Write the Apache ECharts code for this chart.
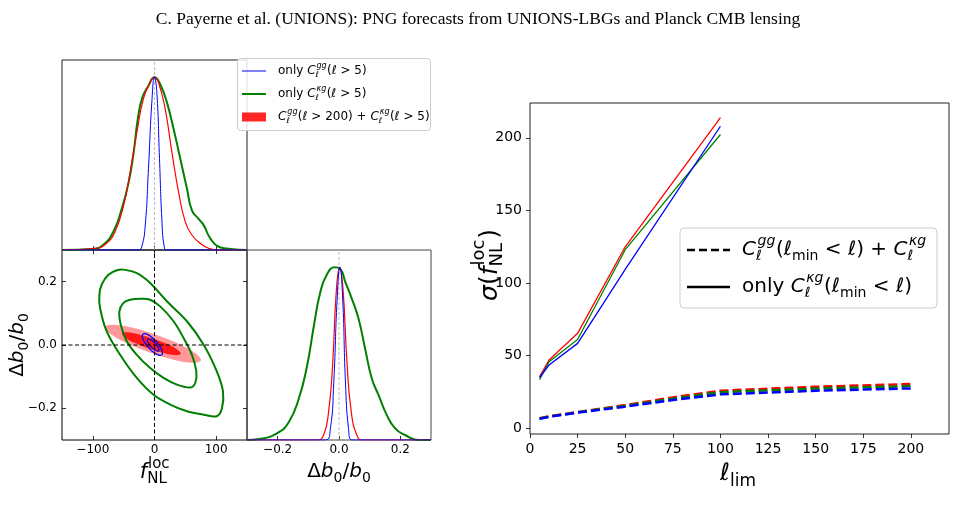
<!DOCTYPE html>
<html><head><meta charset="utf-8">
<script src="https://cdn.jsdelivr.net/npm/echarts@6.0.0/dist/echarts.min.js"></script>
<style>html,body{margin:0;padding:0;background:#fff}#c{width:956px;height:514px}</style>
</head><body><div id="c"></div><script>
// ---------------- DATA ----------------
const titleText = 'C. Payerne et al. (UNIONS): PNG forecasts from UNIONS-LBGs and Planck CMB lensing';
const fnlTicks = [-100, 0, 100];
const dbTicks = [-0.2, 0, 0.2];
const lTicks = [0, 25, 50, 75, 100, 125, 150, 175, 200];
const sigmaTicks = [0, 50, 100, 150, 200];

// 1D marginal of f_NL (normalised to peak = 1)
const fnlGreen = [[-150,0],[-99,0.006],[-83,0.03],[-66.7,0.106],[-53,0.24],[-42,0.39],[-34,0.56],[-27,0.76],[-20,0.88],[-10,0.95],[0,1],[9.2,0.96],[20,0.856],[31,0.70],[41.7,0.53],[52.6,0.356],[60.7,0.23],[71.5,0.18],[79.7,0.144],[90.5,0.067],[104,0.019],[123,0.006],[150,0]];
const fnlRed = [[-150,0],[-94,0.01],[-77.5,0.04],[-64,0.106],[-50,0.26],[-39.6,0.45],[-28.7,0.68],[-18,0.875],[-7,0.97],[0,1],[6.5,0.97],[17.3,0.817],[28.2,0.567],[39,0.337],[49.9,0.163],[60.7,0.087],[74.3,0.038],[87.8,0.01],[101,0],[150,0]];
const fnlBlue = [[-150,0],[-26,0],[-20.6,0.02],[-15,0.144],[-9.8,0.47],[-4.3,0.856],[0,1],[3.8,0.913],[8.1,0.53],[11.9,0.18],[15.7,0.02],[20,0],[150,0]];

// 1D marginal of Delta b0 / b0
const dbGreen = [[-0.3,0],[-0.26,0.006],[-0.201,0.04],[-0.163,0.106],[-0.131,0.24],[-0.104,0.43],[-0.082,0.66],[-0.061,0.856],[-0.039,0.96],[-0.014,1.0],[0.004,0.99],[0.021,0.913],[0.042,0.817],[0.064,0.70],[0.085,0.53],[0.107,0.356],[0.129,0.26],[0.156,0.144],[0.183,0.067],[0.215,0.029],[0.258,0],[0.3,0]];
const dbRed = [[-0.3,0],[-0.071,0],[-0.05,0.029],[-0.034,0.163],[-0.021,0.43],[-0.009,0.856],[0.002,1.0],[0.013,0.875],[0.026,0.45],[0.04,0.163],[0.058,0.029],[0.075,0],[0.3,0]];
const dbBlue = [[-0.3,0],[-0.044,0],[-0.028,0.067],[-0.017,0.337],[-0.006,0.817],[0.003,1],[0.012,0.817],[0.021,0.337],[0.031,0.067],[0.042,0],[0.3,0]];

// 2D contours [f_NL, Delta b0/b0]
const greenOuter = [[-61,0.236],[-50.4,0.238],[-28.7,0.227],[-7,0.196],[20,0.138],[52.6,0.075],[79.7,0.001],[101,-0.083],[111,-0.146],[109.5,-0.199],[101,-0.225],[79.7,-0.22],[52.6,-0.209],[25.5,-0.188],[-1.6,-0.157],[-28.7,-0.104],[-55.8,-0.031],[-77.5,0.043],[-88.3,0.117],[-89.4,0.159],[-85.6,0.191],[-74.8,0.222]];
const greenInner = [[-39.6,0.143],[-23.3,0.146],[-7,0.143],[9.2,0.122],[30.9,0.075],[47.2,0.022],[60.7,-0.031],[67.8,-0.083],[66.1,-0.12],[58,-0.134],[36.3,-0.125],[14.6,-0.104],[-7,-0.073],[-28.7,-0.031],[-45,0.012],[-54.7,0.064],[-56.9,0.106],[-50.4,0.133]];
const redOuter = [[75.3,-0.049],[62.3,-0.056],[32.0,-0.047],[-7.6,-0.024],[-45.7,0.006],[-72.4,0.036],[-80.2,0.057],[-67.2,0.064],[-36.9,0.055],[2.7,0.032],[40.8,0.002],[67.5,-0.028]];
const redInner = [[42.9,-0.028],[35.0,-0.032],[16.4,-0.026],[-8.0,-0.012],[-31.5,0.006],[-48.0,0.023],[-53.0,0.036],[-45.0,0.040],[-26.5,0.034],[-2.1,0.020],[21.5,0.002],[37.9,-0.016]];
const blueOuter = [[11.8,-0.031],[6.7,-0.032],[-1.0,-0.024],[-9.4,-0.009],[-16.3,0.009],[-19.7,0.025],[-18.7,0.034],[-13.5,0.035],[-5.9,0.027],[2.6,0.012],[9.4,-0.006],[12.8,-0.021]];
const blueInner = [[6.6,-0.019],[3.8,-0.019],[-0.6,-0.014],[-5.4,-0.006],[-9.3,0.004],[-11.3,0.013],[-10.8,0.019],[-8.0,0.019],[-3.6,0.014],[1.1,0.006],[5.1,-0.004],[7.1,-0.013]];

// right panel: sigma(f_NL) vs ell_lim
const lSolid = [5, 10, 25, 50, 100];
const solidRed = [35.5, 47, 65.4, 125, 214];
const solidGreen = [33.5, 45.8, 61.2, 123, 202.3];
const solidBlue = [35, 43.6, 58.5, 109.5, 208];
const lDashed = [5, 10, 25, 50, 75, 100, 150, 200];
const dashedRed = [7, 8.3, 11.2, 16, 21.3, 25.9, 28.6, 30.5];
const dashedGreen = [6.8, 8.1, 11, 15.5, 20.4, 24.9, 27.4, 29.1];
const dashedBlue = [6.5, 7.9, 10.8, 14.9, 19.5, 23.4, 25.9, 27.5];

// ---------------- HELPERS ----------------
const FF = '"DejaVu Sans", sans-serif';
const mctx = document.createElement('canvas').getContext('2d');
function tw(t, size, it) { mctx.font = (it ? 'italic ' : '') + size + 'px "DejaVu Sans"'; return mctx.measureText(t).width; }
function txt(t, x, y, size, it) {
  return {type:'text', x:x, y:y, z:100, style:{text:t, fontSize:size, fontFamily:FF, fontStyle: it ? 'italic' : 'normal', fill:'#000', align:'left', verticalAlign:'middle', textAlign:'left', textVerticalAlign:'middle'}};
}
function math(tokens, S, cx, cy, opts) {
  opts = opts || {};
  const s = Math.round(S * 0.7); let x = 0; const kids = [];
  for (const [t, k] of tokens) {
    if (k === 'n' || k === 'i') { kids.push(txt(t, x, 0, S, k === 'i')); x += tw(t, S, k === 'i'); }
    else if (k === 'sub') { kids.push(txt(t, x, S * 0.3, s, false)); x += tw(t, s, false); }
    else if (k === 'stk' || k === 'stkn') {
      const it = k === 'stk'; const [a, b] = t.split('|');
      const sh = it ? S * 0.08 : S * 0.04;
      kids.push(txt(a, x + sh, -S * 0.42, s, it));
      kids.push(txt(b, x, S * 0.3, s, it));
      x += Math.max(tw(a, s, it) + sh, tw(b, s, it)) + S * 0.03;
    }
  }
  const off = opts.align === 'center' ? -x / 2 : 0;
  kids.forEach(c => c.x += off);
  return {type:'group', x:cx, y:cy, rotation:opts.rot || 0, children:kids, z:100};
}
const fmtInt = v => (v < 0 ? '\u2212' : '') + Math.abs(v);
const fmtDec = v => (v < 0 ? '\u2212' : '') + Math.abs(v).toFixed(1);
const tickIn = vals => ({show:true, inside:true, length:4, customValues:vals, lineStyle:{color:'#000', width:0.8}});
const lab = (vals, fmt, size, margin) => ({show:true, customValues:vals, formatter:fmt, fontSize:size, fontFamily:FF, color:'#000', margin:margin});
function vax(grid, min, max, extra) {
  return Object.assign({type:'value', gridIndex:grid, min:min, max:max, axisLine:{show:false, onZero:false}, splitLine:{show:false}, axisTick:{show:false}, axisLabel:{show:false}}, extra || {});
}
const line = (data, xi, yi, color, w, z, extra) => Object.assign({type:'line', xAxisIndex:xi, yAxisIndex:yi, data:data, symbol:'none', smooth:0.5, lineStyle:{color:color, width:w}, z:z, silent:true, animation:false}, extra || {});
function poly(pts, style, z) {
  return {type:'custom', coordinateSystem:'cartesian2d', xAxisIndex:1, yAxisIndex:1, data:pts, z:z, silent:true, clip:true, animation:false,
    renderItem:(p, api) => p.dataIndex === 0 ? {type:'polygon', shape:{points:pts.map(q => api.coord(q)), smooth:0.35}, style:style} : null};
}
const pair = (xs, ys) => xs.map((x, i) => [x, ys[i]]);

// ---------------- CHART ----------------
const chart = echarts.init(document.getElementById('c'), null, {renderer:'canvas'});
const border = c => ({show:true, borderColor:c, borderWidth:1, backgroundColor:'transparent'});
const option = {
  animation:false,
  backgroundColor:'#fff',
  title:{text:titleText, left:'center', top:5, textStyle:{fontFamily:'"Liberation Serif", serif', fontSize:17.5, fontWeight:'normal', color:'#000'}},
  grid:[
    Object.assign({left:62, top:60, width:185, height:190}, border('#222')),
    Object.assign({left:62, top:250, width:185, height:190}, border('#000')),
    Object.assign({left:247, top:250, width:184, height:190}, border('#444')),
    Object.assign({left:530, top:103, width:419, height:331}, border('#222'))
  ],
  xAxis:[
    vax(0, -150, 150, {axisTick:tickIn(fnlTicks)}),
    vax(1, -150, 150, {position:'bottom', axisTick:tickIn(fnlTicks), axisLabel:lab(fnlTicks, fmtInt, 12, 4)}),
    vax(1, -150, 150, {position:'top', axisTick:tickIn(fnlTicks)}),
    vax(2, -0.3, 0.3, {axisTick:tickIn(dbTicks), axisLabel:lab(dbTicks, fmtDec, 12, 4)}),
    vax(3, 0, 220, {axisTick:{show:true, inside:false, length:4, customValues:lTicks, lineStyle:{color:'#000', width:0.8}}, axisLabel:lab(lTicks, v => String(v), 14, 8)})
  ],
  yAxis:[
    vax(0, 0, 1.1),
    vax(1, -0.3, 0.3, {position:'left', axisTick:tickIn(dbTicks), axisLabel:lab(dbTicks, fmtDec, 12, 5)}),
    vax(1, -0.3, 0.3, {position:'right', axisTick:tickIn(dbTicks)}),
    vax(2, 0, 1.1),
    vax(3, -3.9, 224, {axisTick:{show:true, inside:false, length:4, customValues:sigmaTicks, lineStyle:{color:'#000', width:0.8}}, axisLabel:lab(sigmaTicks, v => String(v), 14, 8)})
  ],
  series:[
    // top-left 1D f_NL
    line([[0,0],[0,1.1]], 0, 0, '#aaa', 0.8, 1, {smooth:false, lineStyle:{color:'#aaa', width:0.8, type:[3,2]}}),
    line(fnlGreen, 0, 0, '#008000', 2, 2),
    line(fnlRed, 0, 0, '#ff0000', 1.2, 3),
    line(fnlBlue, 0, 0, '#0000ff', 1, 4),
    // 2D
    poly(redOuter, {fill:'rgba(255,0,0,0.4)', stroke:'none'}, 2),
    poly(redInner, {fill:'rgba(255,0,0,0.85)', stroke:'none'}, 3),
    poly(greenOuter, {fill:'none', stroke:'#008000', lineWidth:2}, 4),
    poly(greenInner, {fill:'none', stroke:'#008000', lineWidth:2}, 4),
    poly(blueOuter, {fill:'none', stroke:'#0000ff', lineWidth:1.2}, 5),
    poly(blueInner, {fill:'none', stroke:'#0000ff', lineWidth:1.2}, 5),
    line([[0,-0.3],[0,0.3]], 1, 1, '#000', 1, 6, {smooth:false, lineStyle:{color:'#000', width:1, type:[4,2.5]}}),
    line([[-150,0],[150,0]], 1, 1, '#000', 1, 6, {smooth:false, lineStyle:{color:'#000', width:1, type:[4,2.5]}}),
    // bottom-right 1D Delta b
    line([[0,0],[0,1.1]], 3, 3, '#aaa', 0.8, 1, {smooth:false, lineStyle:{color:'#aaa', width:0.8, type:[3,2]}}),
    line(dbGreen, 3, 3, '#008000', 2, 2),
    line(dbRed, 3, 3, '#ff0000', 1.2, 3),
    line(dbBlue, 3, 3, '#0000ff', 1, 4),
    // right panel
    line(pair(lDashed, dashedRed), 4, 4, '#ff0000', 2.5, 2, {smooth:false, lineStyle:{color:'#ff0000', width:2.5, type:[9,4]}}),
    line(pair(lDashed, dashedGreen), 4, 4, '#008000', 2.5, 3, {smooth:false, lineStyle:{color:'#008000', width:2.5, type:[9,4]}}),
    line(pair(lDashed, dashedBlue), 4, 4, '#0000ff', 2.5, 4, {smooth:false, lineStyle:{color:'#0000ff', width:2.5, type:[9,4]}}),
    line(pair(lSolid, solidRed), 4, 4, '#ff0000', 1.3, 2, {smooth:false}),
    line(pair(lSolid, solidGreen), 4, 4, '#008000', 1.3, 3, {smooth:false}),
    line(pair(lSolid, solidBlue), 4, 4, '#0000ff', 1.3, 4, {smooth:false})
  ],
  graphic:{elements:[
    // left legend
    {type:'rect', z:90, shape:{x:237.5, y:58.5, width:193, height:72, r:3}, style:{fill:'rgba(255,255,255,0.85)', stroke:'#cccccc', lineWidth:1}},
    {type:'line', z:100, shape:{x1:242, y1:71, x2:266, y2:71}, style:{stroke:'#0000ff', lineWidth:1}},
    {type:'line', z:100, shape:{x1:242, y1:94, x2:266, y2:94}, style:{stroke:'#008000', lineWidth:2}},
    {type:'rect', z:100, shape:{x:242, y:112.5, width:24, height:9}, style:{fill:'rgba(255,0,0,0.85)'}},
    math([['only ','n'],['C','i'],['gg|\u2113','stk'],['(','n'],['\u2113','i'],[' > 5)','n']], 12, 278, 71),
    math([['only ','n'],['C','i'],['\u03bag|\u2113','stk'],['(','n'],['\u2113','i'],[' > 5)','n']], 12, 278, 94),
    math([['C','i'],['gg|\u2113','stk'],['(','n'],['\u2113','i'],[' > 200) + ','n'],['C','i'],['\u03bag|\u2113','stk'],['(','n'],['\u2113','i'],[' > 5)','n']], 12, 278, 117),
    // right legend
    {type:'rect', z:90, shape:{x:680, y:228, width:257, height:80, r:4}, style:{fill:'rgba(255,255,255,0.85)', stroke:'#cccccc', lineWidth:1}},
    {type:'line', z:100, shape:{x1:687, y1:250, x2:730, y2:250}, style:{stroke:'#000', lineWidth:2.3, lineDash:[8,4]}},
    {type:'line', z:100, shape:{x1:687, y1:287, x2:730, y2:287}, style:{stroke:'#000', lineWidth:2.3}},
    math([['C','i'],['gg|\u2113','stk'],['(','n'],['\u2113','i'],['min','sub'],[' < ','n'],['\u2113','i'],[') + ','n'],['C','i'],['\u03bag|\u2113','stk']], 20, 742, 250),
    math([['only ','n'],['C','i'],['\u03bag|\u2113','stk'],['(','n'],['\u2113','i'],['min','sub'],[' < ','n'],['\u2113','i'],[')','n']], 20, 742, 287),
    // axis titles
    math([['\u0394','n'],['b','i'],['0','sub'],['/','n'],['b','i'],['0','sub']], 20, 18, 345, {align:'center', rot:Math.PI/2}),
    math([['f','i'],['loc|NL','stkn']], 21, 155, 473, {align:'center'}),
    math([['\u0394','n'],['b','i'],['0','sub'],['/','n'],['b','i'],['0','sub']], 20, 339, 472, {align:'center'}),
    math([['\u03c3','i'],['(','n'],['f','i'],['loc|NL','stkn'],[')','n']], 25, 490, 265, {align:'center', rot:Math.PI/2}),
    math([['\u2113','i'],['lim','sub']], 24, 738, 474, {align:'center'})
  ]}
};
chart.setOption(option);
</script></body></html>
